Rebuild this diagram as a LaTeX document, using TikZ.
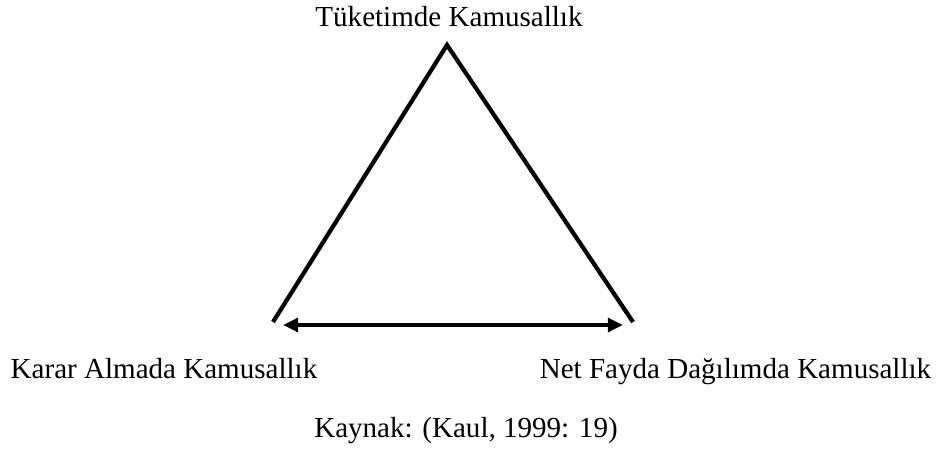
\documentclass[tikz,border=0pt]{standalone}
\usepackage{fontspec}
\setmainfont{Liberation Serif}
\usetikzlibrary{arrows.meta}

\begin{document}
\begin{tikzpicture}[x=0.413pt, y=-0.413pt,
    side/.style={line width=1.75pt},
    label/.style={font=\fontsize{12}{14}\selectfont, inner sep=0pt, anchor=base}]
    % frame of the picture, in pixel units of the reference
    \useasboundingbox (0,0) rectangle (945,448);

    % corners of the triangle
    \coordinate (apex) at (447,45);
    \coordinate (lft) at (273,322);
    \coordinate (rgt) at (633,322);

    % open triangle: two sides
    \draw[side, line join=miter] (lft) -- (apex) -- (rgt);

    % double arrow along the base
    \coordinate (arwL) at (283,325);
    \coordinate (arwR) at (623,325);
    \draw[side, {Triangle[length=6.2pt, width=5.6pt]}-{Triangle[length=6.2pt, width=5.6pt]}] (arwL) -- (arwR);

    % texts
    \node[label] (tuketim) at (449,26) {Tüketimde Kamusallık};
    \node[label] (karar) at (164,378) {Karar Almada Kamusallık};
    \node[label] (fayda) at (735.5,378) {Net Fayda Dağılımda Kamusallık};
    \node[label] (kaynak) at (466,437) {Kaynak: (Kaul, 1999: 19)};
\end{tikzpicture}
\end{document}
